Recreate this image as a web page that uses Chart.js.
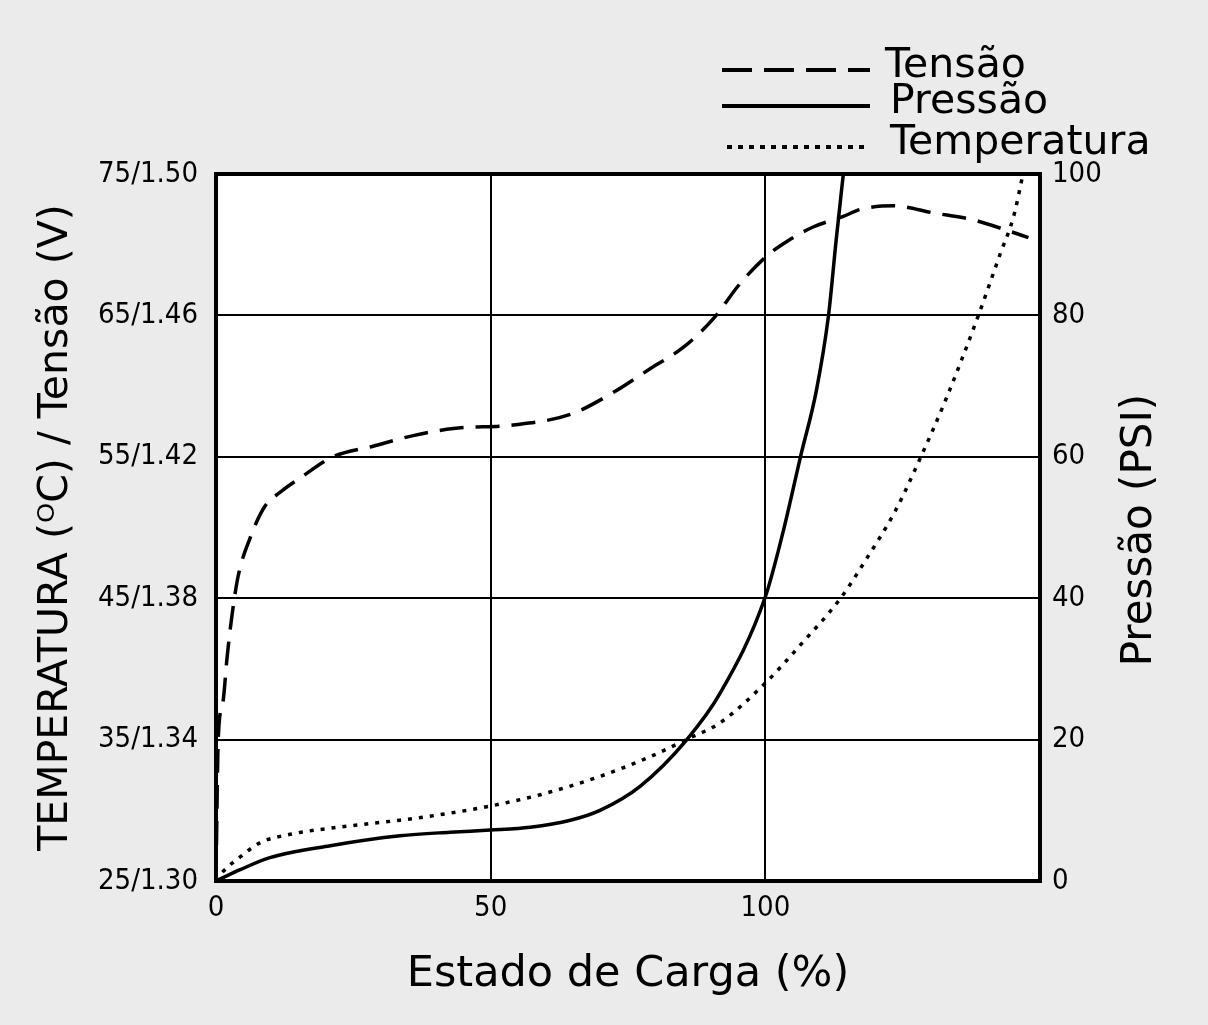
<!DOCTYPE html>
<html>
<head>
<meta charset="utf-8">
<script src="https://cdn.jsdelivr.net/npm/chart.js@4.4.1/dist/chart.umd.min.js"></script>
<style>
  html, body { margin: 0; padding: 0; background: #ebebeb; }
  canvas { display: block; }
</style>
</head>
<body>
<canvas id="myChart" width="1208" height="1025"></canvas>
<script>
// estado de carga (%) / valores
let tensaoSoc = [0, 0.2, 0.4, 1.3, 2.0, 2.9, 4.0, 6.2, 8.9, 11.7, 15.3, 21.3, 28.6, 35.9, 43.2, 54.1, 64.5, 72.1, 79.1, 85.1, 90.5, 95.4, 100.4, 104.0, 108.7, 114.2, 117.3, 123.3, 130.6, 137.9, 144.1, 147.9]
let tensaoV = [1.300, 1.323, 1.340, 1.351, 1.363, 1.375, 1.386, 1.397, 1.406, 1.410, 1.414, 1.420, 1.423, 1.426, 1.428, 1.429, 1.432, 1.438, 1.445, 1.451, 1.459, 1.469, 1.477, 1.481, 1.485, 1.488, 1.490, 1.491, 1.489, 1.487, 1.484, 1.482]

let pressaoSoc = [0, 4.4, 9.8, 20.8, 33.5, 42.6, 49.9, 57.2, 64.5, 69.9, 77.2, 85.6, 91.8, 100, 103.3, 106.4, 109.3, 111.5, 112.9, 114.2]
let pressaoPsi = [0, 1.6, 3.3, 5.0, 6.4, 6.9, 7.2, 7.6, 8.6, 10.0, 13.4, 19.9, 26.6, 40.2, 49.6, 60, 69.4, 80, 90.7, 100]

let tempSoc = [0, 1.1, 4.4, 8.0, 13.5, 24.4, 33.5, 42.6, 49.9, 59.0, 69.9, 79.1, 85.6, 91.8, 100, 106.4, 113.7, 118.6, 123.7, 128.2, 132.8, 138.6, 142.8, 145.2, 146.8]
let tempC = [25, 25.6, 26.7, 27.7, 28.3, 28.9, 29.3, 29.8, 30.3, 31.1, 32.4, 33.8, 35.0, 36.2, 39.0, 41.7, 45.0, 47.9, 51.2, 54.9, 59.0, 64.8, 69.4, 72.0, 74.8]

let leftTicks = ['25/1.30', '35/1.34', '45/1.38', '55/1.42', '65/1.46', '75/1.50']
let xTicks = ['0', '50', '100']

let tickFont = "'Liberation Sans Narrow', 'DejaVu Sans Condensed', 'Arial Narrow', sans-serif"
let textFont = "'DejaVu Sans', Verdana, sans-serif"

function pts(xs, ys) {
    return xs.map((x, i) => ({x: x, y: ys[i]}))
}

// fundo branco da area do grafico, moldura, legenda e titulo da direita
let frame = {
    id: 'frame',
    beforeDraw(chart) {
        let {ctx, chartArea: a} = chart
        ctx.save()
        ctx.fillStyle = '#fff'
        ctx.fillRect(a.left, a.top, a.right - a.left, a.bottom - a.top)
        ctx.restore()
    },
    afterDraw(chart) {
        let {ctx, chartArea: a} = chart
        ctx.save()
        ctx.strokeStyle = '#000'
        ctx.lineWidth = 4
        ctx.strokeRect(a.left, a.top, a.right - a.left, a.bottom - a.top)

        // legenda
        let rows = [
            {y: 70, dash: [30, 12], x0: 722},
            {y: 106, dash: [], x0: 722},
            {y: 147, dash: [5, 6], x0: 727}
        ]
        ctx.font = '41px ' + textFont
        ctx.textBaseline = 'middle'
        ctx.fillStyle = '#000'
        chart.data.datasets.forEach((ds, i) => {
            let r = rows[i]
            ctx.setLineDash(r.dash)
            ctx.lineWidth = 4
            ctx.beginPath()
            ctx.moveTo(r.x0, r.y)
            ctx.lineTo(870, r.y)
            ctx.stroke()
            ctx.setLineDash([])
            ctx.fillText(ds.label, i == 0 ? 885 : 890, r.y - 4)
        })

        // titulo do eixo da direita
        ctx.font = '42px ' + textFont
        ctx.translate(1140, 530)
        ctx.rotate(-Math.PI / 2)
        ctx.textAlign = 'center'
        ctx.fillText('Pressão (PSI)', 0, 0)
        ctx.restore()
    }
}

let myChart = document.getElementById('myChart').getContext('2d')

let socChart = new Chart(myChart, {
    type: 'line',
    data: {
        datasets: [{
            label: 'Tensão',
            data: pts(tensaoSoc, tensaoV),
            yAxisID: 'yv',
            borderColor: '#000',
            borderWidth: 3.5,
            borderDash: [24, 12],
            pointRadius: 0,
            fill: false,
            cubicInterpolationMode: 'monotone'
        }, {
            label: 'Pressão',
            data: pts(pressaoSoc, pressaoPsi),
            yAxisID: 'y2',
            borderColor: '#000',
            borderWidth: 3.5,
            pointRadius: 0,
            fill: false,
            cubicInterpolationMode: 'monotone'
        }, {
            label: 'Temperatura',
            data: pts(tempSoc, tempC),
            yAxisID: 'y',
            borderColor: '#000',
            borderWidth: 3.5,
            borderDash: [4, 7],
            pointRadius: 0,
            fill: false,
            cubicInterpolationMode: 'monotone'
        }]
    },
    options: {
        responsive: false,
        animation: false,
        layout: {padding: {top: 174, left: 0, right: 0, bottom: 0}},
        plugins: {
            legend: {display: false},
            tooltip: {enabled: false}
        },
        scales: {
            x: {
                type: 'linear',
                min: 0,
                max: 150,
                ticks: {
                    stepSize: 50,
                    padding: 10,
                    color: '#000',
                    font: {family: tickFont, size: 29},
                    callback: (v) => xTicks[v / 50] || ''
                },
                grid: {color: '#000', lineWidth: 2, drawTicks: false},
                border: {display: false},
                title: {
                    display: true,
                    text: 'Estado de Carga (%)',
                    color: '#000',
                    font: {family: textFont, size: 43},
                    padding: {top: 0, bottom: 24}
                },
                afterFit: (s) => { s.height = 144 }
            },
            y: {
                position: 'left',
                min: 25,
                max: 75,
                ticks: {
                    stepSize: 10,
                    padding: 18,
                    color: '#000',
                    font: {family: tickFont, size: 29},
                    callback: (v) => leftTicks[(v - 25) / 10]
                },
                grid: {color: '#000', lineWidth: 2, drawTicks: false},
                border: {display: false},
                title: {
                    display: true,
                    text: 'TEMPERATURA (ᴼC) / Tensão (V)',
                    color: '#000',
                    font: {family: textFont, size: 41},
                    padding: {top: 32, bottom: 0}
                },
                afterFit: (s) => { s.width = 216 }
            },
            y2: {
                position: 'right',
                min: 0,
                max: 100,
                ticks: {
                    stepSize: 20,
                    padding: 12,
                    color: '#000',
                    font: {family: tickFont, size: 29}
                },
                grid: {drawOnChartArea: false, drawTicks: false},
                border: {display: false},
                afterFit: (s) => { s.width = 168 }
            },
            yv: {
                display: false,
                min: 1.30,
                max: 1.50
            }
        }
    },
    plugins: [frame]
})
</script>
</body>
</html>
